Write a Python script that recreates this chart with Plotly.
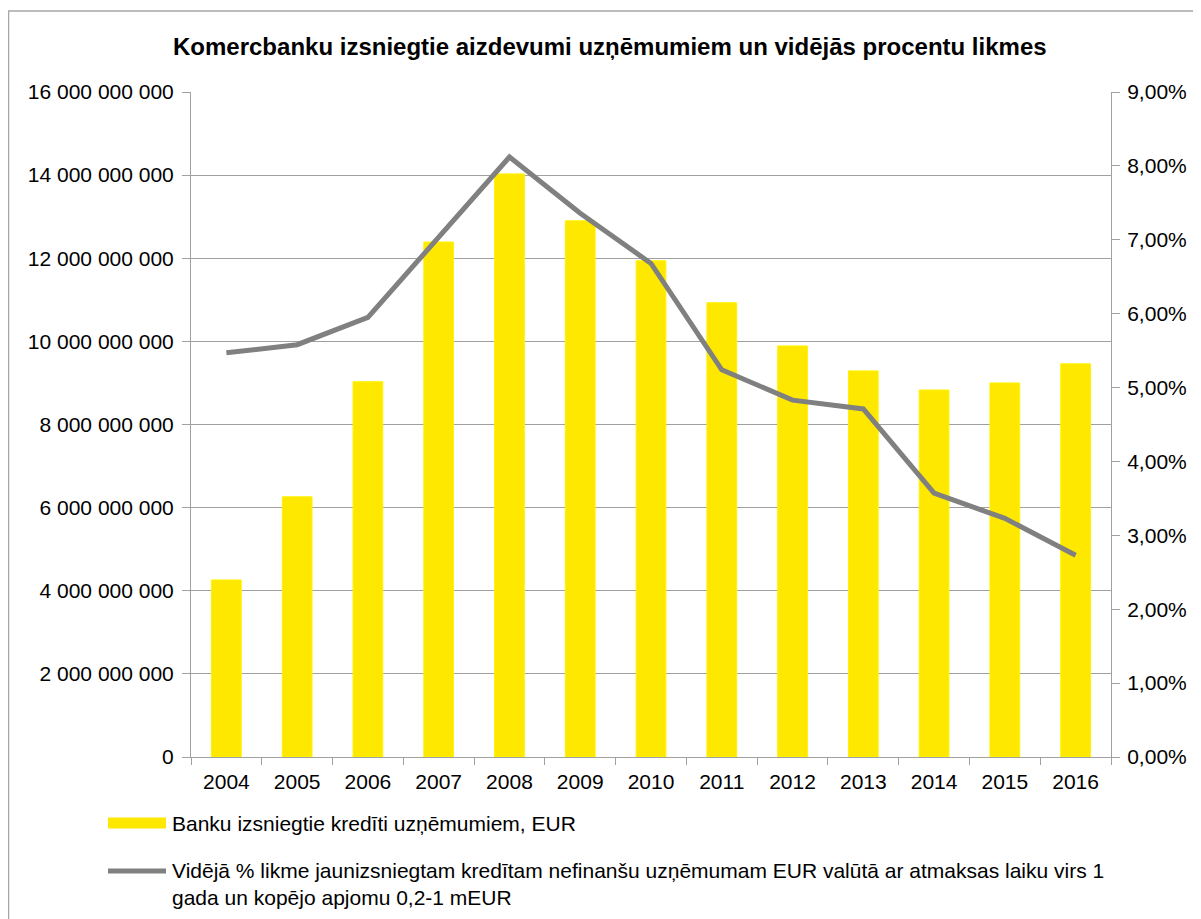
import plotly.graph_objects as go

years = ["2004", "2005", "2006", "2007", "2008", "2009", "2010",
         "2011", "2012", "2013", "2014", "2015", "2016"]
loans_eur = [4.26e9, 6.26e9, 9.03e9, 12.39e9, 14.03e9, 12.90e9, 11.94e9,
             10.93e9, 9.89e9, 9.29e9, 8.83e9, 9.00e9, 9.46e9]
rate = [0.0547, 0.0558, 0.0595, 0.0704, 0.0812, 0.0736, 0.0668,
        0.0524, 0.0483, 0.0471, 0.0357, 0.0323, 0.0273]

title_text = "Komercbanku izsniegtie aizdevumi uzņēmumiem un vidējās procentu likmes"
bar_name = "Banku izsniegtie kredīti uzņēmumiem, EUR"
line_name = ("Vidējā % likme jaunizsniegtam kredītam nefinanšu uzņēmumam EUR valūtā ar atmaksas laiku virs 1"
             "<br>gada un kopējo apjomu 0,2-1 mEUR")

FONT = "Liberation Sans, Arial, sans-serif"
GRID = "#a0a0a0"
FS = 21

# page offset (body margin) is 8px; work in page pixels and convert
OFF = 8
W, H = 1201, 919
L, R, T, B = 191 - OFF, 1111 - OFF, 92 - OFF, 757 - OFF
pw, ph = R - L, B - T


def px(x):
    return (x - OFF - L) / pw


def py(y):
    return (B - (y - OFF)) / ph


fig = go.Figure()
fig.add_trace(go.Bar(
    x=years, y=loans_eur, name=bar_name, width=0.42,
    marker=dict(color="#FFE800", line=dict(color="#FFF200", width=1)),
    showlegend=False,
))
fig.add_trace(go.Scatter(
    x=years, y=rate, name=line_name, yaxis="y2", mode="lines",
    line=dict(color="#808080", width=5), showlegend=False,
))

fig.update_layout(
    width=W, height=H,
    margin=dict(l=L, r=W - R, t=T, b=H - B),
    paper_bgcolor="white", plot_bgcolor="white",
    separators=", ",
    font=dict(family=FONT, size=FS, color="black"),
    xaxis=dict(
        type="category", tickson="boundaries", ticks="outside", ticklen=7,
        tickcolor=GRID, showline=True, linecolor=GRID, linewidth=1,
        showgrid=False, tickfont=dict(size=FS), ticklabelstandoff=6,
    ),
    yaxis=dict(
        range=[0, 16e9], dtick=2e9, tickformat=",d", ticks="outside", ticklen=8,
        tickcolor=GRID, showline=True, linecolor=GRID, linewidth=1,
        showgrid=True, gridcolor=GRID, gridwidth=1, zeroline=False,
        tickfont=dict(size=FS), ticklabelstandoff=4,
    ),
    yaxis2=dict(
        range=[0, 0.09], dtick=0.01, tickformat=".2%", overlaying="y", side="right",
        ticks="outside", ticklen=8, tickcolor=GRID, showline=True, linecolor=GRID,
        linewidth=1, showgrid=False, zeroline=False, tickfont=dict(size=FS),
        ticklabelstandoff=3,
    ),
    showlegend=False,
)

# outer chart border
fig.add_shape(type="rect", xref="paper", yref="paper",
              x0=px(8.5), x1=px(1300), y0=py(1100), y1=py(11),
              line=dict(color="#a6a6a6", width=1.5), fillcolor="rgba(0,0,0,0)",
              layer="below")

# title
fig.add_annotation(text="<b>" + title_text + "</b>", xref="paper", yref="paper",
                   x=px(610), y=py(47), xanchor="center", yanchor="middle",
                   showarrow=False, font=dict(size=24, family=FONT))

# custom legend
fig.add_shape(type="line", xref="paper", yref="paper",
              x0=px(108), x1=px(166), y0=py(823), y1=py(823),
              line=dict(color="#FFE800", width=11))
fig.add_annotation(text=bar_name, xref="paper", yref="paper",
                   x=px(170), y=py(823), xanchor="left", yanchor="middle",
                   showarrow=False, font=dict(size=FS, family=FONT))
fig.add_shape(type="line", xref="paper", yref="paper",
              x0=px(108), x1=px(166), y0=py(871), y1=py(871),
              line=dict(color="#808080", width=5))
fig.add_annotation(text=line_name, xref="paper", yref="paper",
                   x=px(170), y=py(857), xanchor="left", yanchor="top",
                   align="left", showarrow=False, font=dict(size=FS, family=FONT))

fig.write_html("out.html")
